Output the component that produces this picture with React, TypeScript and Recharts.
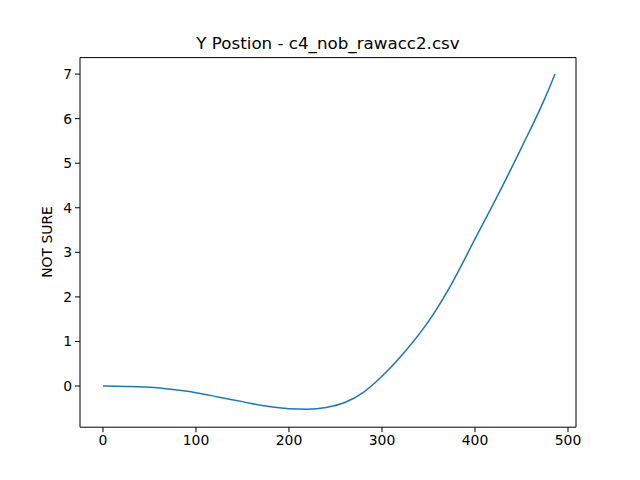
import React from "react";
import { LineChart, Line, XAxis, YAxis } from "recharts";

const xs = [0, 25, 50, 75, 100, 125, 150, 175, 200, 220, 240, 260, 280, 300, 325, 350, 375, 400, 425, 450, 475, 486];
const ys = [0, -0.01, -0.03, -0.08, -0.15, -0.25, -0.35, -0.45, -0.51, -0.52, -0.48, -0.37, -0.14, 0.22, 0.78, 1.45, 2.3, 3.3, 4.3, 5.35, 6.45, 7.0];
const xTicks = [0, 100, 200, 300, 400, 500];
const yTicks = [0, 1, 2, 3, 4, 5, 6, 7];
const data = xs.map((x, i) => ({ x, y: ys[i] }));

const font = { fontFamily: "DejaVu Sans", fontSize: 13.9, fill: "#000" };

export default function App() {
  return (
    <div style={{ position: "absolute", left: 0, top: 0, width: 640, height: 480, background: "#fff" }}>
      <LineChart width={640} height={480} data={data} margin={{ top: 56.6, left: 79, right: 63, bottom: 51.8 }}>
        <XAxis dataKey="x" type="number" domain={[-24.7, 508.6]} allowDataOverflow ticks={xTicks}
          height={1} tick={font} tickSize={5} tickMargin={3} stroke="#000" interval={0} />
        <XAxis xAxisId="top" orientation="top" dataKey="x" type="number" domain={[-24.7, 508.6]} height={1}
          tick={false} tickLine={false} stroke="#000" />
        <YAxis type="number" domain={[-0.924, 7.37]} allowDataOverflow ticks={yTicks} width={1}
          tick={font} tickSize={5} tickMargin={3} stroke="#000" interval={0} />
        <YAxis yAxisId="right" orientation="right" domain={[-0.924, 7.37]} width={1}
          tick={false} tickLine={false} stroke="#000" />
        <Line dataKey="y" type="monotone" stroke="#1f77b4" strokeWidth={1.5} dot={false} isAnimationActive={false} />
      </LineChart>
      <div style={{ position: "absolute", left: 80, width: 496, top: 33, textAlign: "center", fontFamily: "DejaVu Sans", fontSize: 16.7 }}>
        Y Postion - c4_nob_rawacc2.csv
      </div>
      <div style={{ position: "absolute", left: 47, top: 242, transform: "translate(-50%,-50%) rotate(-90deg)", fontFamily: "DejaVu Sans", fontSize: 13.9, whiteSpace: "nowrap" }}>
        NOT SURE
      </div>
    </div>
  );
}
